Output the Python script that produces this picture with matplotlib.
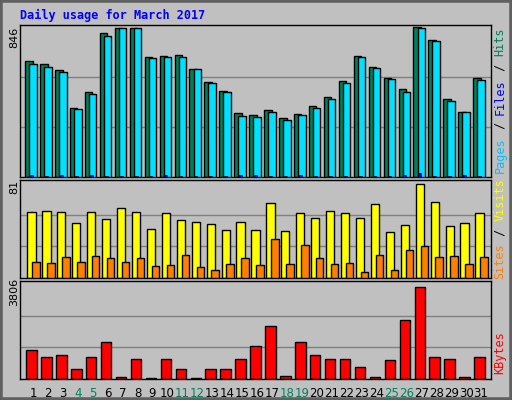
import matplotlib
matplotlib.use("Agg")
import matplotlib.pyplot as plt
import numpy as np

days = list(range(1, 32))
weekend = [4, 5, 11, 12, 18, 19, 25, 26]
hits = [651, 634, 599, 386, 478, 808, 835, 840, 673, 679, 685, 605, 536, 486, 358, 346,
        375, 329, 352, 398, 450, 542, 679, 616, 559, 496, 846, 771, 440, 365, 555]
pages = [634, 616, 588, 381, 467, 795, 835, 835, 667, 673, 673, 605, 530, 478, 341, 335,
         364, 323, 346, 386, 438, 530, 673, 610, 553, 478, 835, 765, 429, 365, 544]
files = [12, 8, 12, 8, 12, 8, 8, 8, 8, 12, 8, 3, 8, 8, 12, 12,
         8, 3, 12, 8, 8, 8, 3, 8, 8, 12, 20, 8, 8, 12, 8]
visits = [56, 57, 56, 47, 56, 50, 60, 56, 42, 55, 49, 48, 46, 41, 48, 41,
          64, 40, 55, 51, 57, 55, 51, 63, 39, 45, 80, 65, 44, 47, 55]
sites = [14, 13, 18, 14, 19, 17, 14, 17, 10, 11, 20, 9, 7, 12, 17, 11,
         33, 12, 28, 17, 12, 13, 5, 20, 7, 24, 27, 18, 19, 12, 18]
kbytes = [1148, 863, 944, 418, 863, 1472, 94, 783, 54, 783, 418, 54, 418, 418, 783, 1310,
          2119, 135, 1472, 944, 783, 783, 499, 94, 742, 2362, 3698, 863, 783, 94, 863]

BG = "#C0C0C0"
fig = plt.figure(figsize=(5.12, 4.0), dpi=100, facecolor=BG)
mono = "DejaVu Sans Mono"
x = np.array(days)

def mk(bottom, top):
    ax = fig.add_axes([20/512, 1-bottom/400, 471/512, (bottom-top)/400])
    ax.set_facecolor(BG)
    ax.set_xlim(0.13, 31.67)
    ax.set_xticks([])
    ax.set_yticks([])
    for s in ax.spines.values():
        s.set_color("black"); s.set_linewidth(1)
    return ax

ax1 = mk(177, 25)
ax1.set_ylim(0, 846*1.01)
for g in (846/3, 846*2/3):
    ax1.axhline(g, color="#808080", lw=1, zorder=0)
ax1.bar(x-0.27, hits, width=0.5, color="#00805C", edgecolor="black", lw=1, zorder=2)
ax1.bar(x+0.0, pages, width=0.5, color="#00E0FF", edgecolor="black", lw=1, zorder=3)
ax1.bar(x-0.1, files, width=0.2, color="#0000FF", edgecolor="black", lw=0.5, zorder=4)

ax2 = mk(278, 180)
ax2.set_ylim(0, 81*1.03)
for g in (27, 54):
    ax2.axhline(g, color="#808080", lw=1, zorder=0)
ax2.bar(x-0.1, visits, width=0.55, color="#FFFF00", edgecolor="black", lw=1, zorder=2)
ax2.bar(x+0.2, sites, width=0.5, color="#FF8000", edgecolor="black", lw=1, zorder=3)

ax3 = mk(379, 281)
ax3.set_ylim(0, 3806*1.03)
for g in (3806/3, 3806*2/3):
    ax3.axhline(g, color="#808080", lw=1, zorder=0)
ax3.bar(x-0.1, kbytes, width=0.7, color="#FF0000", edgecolor="black", lw=1, zorder=2)

for d in days:
    ax3.text(d, -0.08, str(d), transform=ax3.get_xaxis_transform(), ha="center", va="top",
             fontsize=8.5, color="#00805C" if d in weekend else "black", family="DejaVu Sans")

fig.text(20/512, 1-15/400, "Daily usage for March 2017", color="#0000FF", fontsize=8.5,
         fontweight="bold", family=mono, va="center")
for ytop, lab in ((37, "846"), (187, "81"), (292, "3806")):
    fig.text(14/512, 1-ytop/400, lab, rotation=90, fontsize=8, family="DejaVu Sans", ha="center", va="center")

def rlabel(yc, parts):
    # parts drawn bottom to top
    from matplotlib import transforms
    t = fig.text(500/512, 1-yc/400, "", fontsize=8)
    y0 = 1-yc/400
    total = sum(len(p[0]) for p in parts)
    step = 7.3/400
    y = y0 - total*step/2
    for s, c in parts:
        fig.text(500/512, y, s, rotation=90, color=c, fontsize=8.5, family=mono,
                 ha="center", va="bottom")
        y += len(s)*step

rlabel(100, [("Pages", "#00C0FF"), (" / ", "black"), ("Files", "#0000FF"), (" / ", "black"), ("Hits", "#00805C")])
rlabel(228, [("Sites", "#FF8000"), (" / ", "black"), ("Visits", "#FFFF00")])
rlabel(352, [("KBytes", "#FF0000")])

# border
fig.add_artist(plt.Rectangle((0, 0), 1, 1, transform=fig.transFigure, fill=False,
                             edgecolor="#606060", lw=4))
fig.savefig("out.png", dpi=100, facecolor=BG)
